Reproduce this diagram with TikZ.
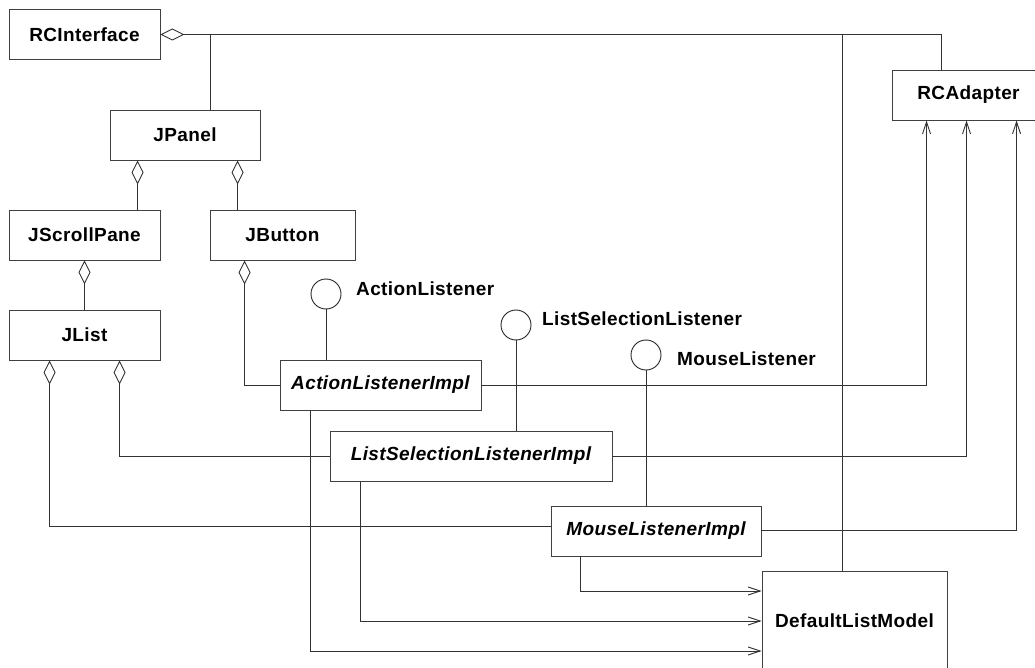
\documentclass[tikz,border=0pt]{standalone}
\usepackage{fontspec}
\setmainfont{Liberation Sans}[LetterSpace=2]
\usetikzlibrary{arrows.meta,calc}

\tikzset{
  cls/.style={draw=black!75, line width=0.9pt, fill=white, inner sep=0pt,
              minimum height=50pt, font=\fontsize{19}{21}\selectfont\bfseries, text=black},
  abscls/.style={cls, font=\fontsize{19}{21}\selectfont\bfseries\itshape},
  iface/.style={draw=black!85, line width=0.9pt, circle, minimum size=30pt, inner sep=0pt},
  ifacelabel/.style={anchor=base west, inner sep=0pt, font=\fontsize{19}{21}\selectfont\bfseries},
  wire/.style={draw=black!80, line width=0.9pt},
  aggr/.style={wire, {Diamond[open, length=24pt, width=12pt]}-},
  dep/.style={wire, -{Straight Barb[length=12pt, width=8pt]}},
}

\begin{document}
\begin{tikzpicture}[x=1pt, y=-1pt]
  \useasboundingbox (0,0) rectangle (1035,668);
  \fill[white] (0,0) rectangle (1035,668);
  \clip (0,0) rectangle (1035,668);

  % classes
  \node[cls, minimum width=151pt] (RCInterface) at (84.5,34.5) {RCInterface};
  \node[cls, minimum width=150pt] (JPanel) at (185,135) {JPanel};
  \node[cls, minimum width=151pt] (JScrollPane) at (84.5,235) {JScrollPane};
  \node[cls, minimum width=145pt] (JButton) at (282.5,235) {JButton};
  \node[cls, minimum width=151pt] (JList) at (84.5,335) {JList};
  \node[cls, minimum width=153pt] (RCAdapter) at (968.5,95) {RCAdapter};
  \node[abscls, minimum width=201pt] (ActionListenerImpl) at (380.5,385) {ActionListenerImpl};
  \node[abscls, minimum width=282pt] (ListSelectionListenerImpl) at (471,456) {ListSelectionListenerImpl};
  \node[abscls, minimum width=210pt] (MouseListenerImpl) at (656,531) {MouseListenerImpl};
  \node[cls, minimum width=185pt, minimum height=99pt] (DefaultListModel) at (854.5,620.5) {DefaultListModel};

  % interfaces (lollipops)
  \node[iface] (ActionListener) at (326,294) {};
  \node[iface] (ListSelectionListener) at (516,325) {};
  \node[iface] (MouseListener) at (646,355) {};
  \node[ifacelabel] (ALlabel) at (356,295) {ActionListener};
  \node[ifacelabel] (LSLlabel) at (542,325) {ListSelectionListener};
  \node[ifacelabel] (MLlabel) at (677,365) {MouseListener};

  % attachment points
  \coordinate (jp)  at ($(JPanel.north)+(25,0)$);
  \coordinate (dt)  at ($(DefaultListModel.north)+(-12.5,0)$);
  \coordinate (adt) at ($(RCAdapter.north west)+(50,0)$);
  \coordinate (jpl) at ($(JPanel.south west)+(28,0)$);
  \coordinate (jpr) at ($(JPanel.south west)+(128,0)$);
  \coordinate (jb)  at ($(JButton.south west)+(35,0)$);
  \coordinate (jl1) at ($(JList.south west)+(41,0)$);
  \coordinate (jl2) at ($(JList.south west)+(111,0)$);
  \coordinate (mlw) at ($(MouseListenerImpl.west)+(0,-5)$);
  \coordinate (mle) at ($(MouseListenerImpl.east)+(0,-1)$);
  \coordinate (ad1) at ($(RCAdapter.south west)+(35,0)$);
  \coordinate (ad2) at ($(RCAdapter.south west)+(75,0)$);
  \coordinate (ad3) at ($(RCAdapter.south west)+(125,0)$);
  \coordinate (alb) at ($(ActionListenerImpl.south west)+(31,0)$);
  \coordinate (lsb) at ($(ListSelectionListenerImpl.south west)+(31,0)$);
  \coordinate (mlb) at ($(MouseListenerImpl.south west)+(30,0)$);
  \coordinate (d1)  at ($(DefaultListModel.west)+(0,-29.5)$);
  \coordinate (d2)  at ($(DefaultListModel.west)+(0,0.5)$);
  \coordinate (d3)  at ($(DefaultListModel.west)+(0,30.5)$);

  % RCInterface aggregation bus
  \draw[aggr] (RCInterface.east) -| (adt);
  \draw[wire] (jp) -- (jp |- RCInterface.east);
  \draw[wire] (dt) -- (dt |- RCInterface.east);

  % component aggregations
  \draw[aggr] (jpl) -- (jpl |- JScrollPane.north);
  \draw[aggr] (jpr) -- (jpr |- JButton.north);
  \draw[aggr] (JScrollPane.south) -- (JList.north);
  \draw[aggr] (jb) |- (ActionListenerImpl.west);
  \draw[aggr] (jl2) |- (ListSelectionListenerImpl.west);
  \draw[aggr] (jl1) |- (mlw);

  % realised interfaces
  \draw[wire] (ActionListener.south) -- (ActionListener.south |- ActionListenerImpl.north);
  \draw[wire] (ListSelectionListener.south) -- (ListSelectionListener.south |- ListSelectionListenerImpl.north);
  \draw[wire] (MouseListener.south) -- (MouseListener.south |- MouseListenerImpl.north);

  % dependencies on RCAdapter
  \draw[dep] (ActionListenerImpl.east) -| (ad1);
  \draw[dep] (ListSelectionListenerImpl.east) -| (ad2);
  \draw[dep] (mle) -| (ad3);

  % dependencies on DefaultListModel
  \draw[dep] (mlb) |- (d1);
  \draw[dep] (lsb) |- (d2);
  \draw[dep] (alb) |- (d3);
\end{tikzpicture}
\end{document}
